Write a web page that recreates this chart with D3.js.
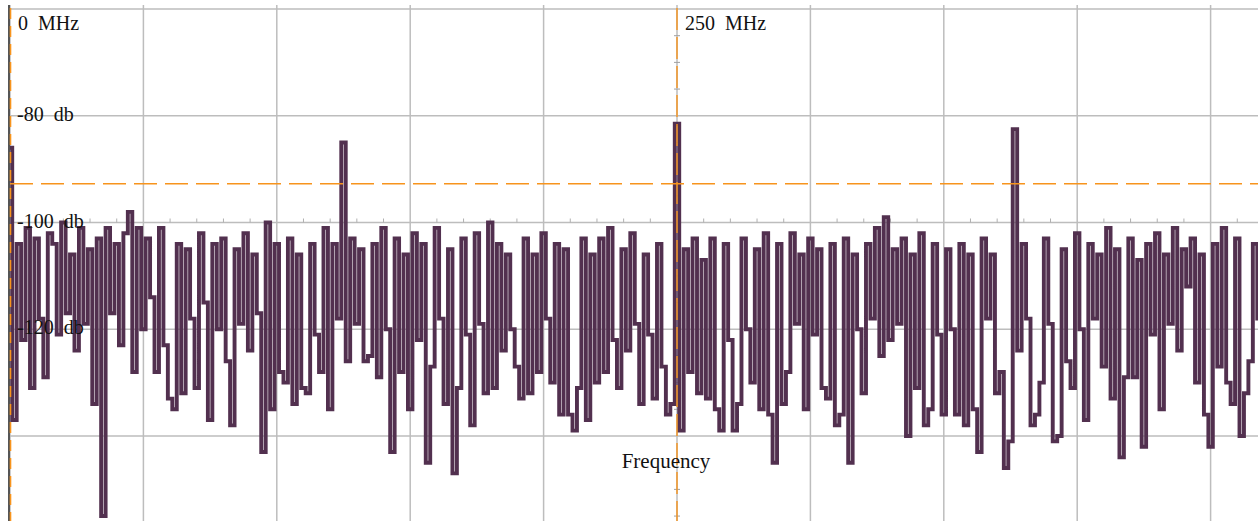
<!DOCTYPE html>
<html>
<head>
<meta charset="utf-8">
<script src="https://cdn.jsdelivr.net/npm/d3@7"></script>
<style>
  html, body { margin: 0; padding: 0; background: #fff; overflow: hidden; }
  text { font-family: "Liberation Serif", "DejaVu Serif", serif; white-space: pre; }
</style>
</head>
<body>
<div id="chart"></div>
<script>
// spectrum levels in db, one per bin (bin width 5/3 MHz)
const binWidth = 5 / 3;
const levels = [
  -86, -137, -104, -122, -101, -131, -103, -118, -129, -102,
  -104, -121, -100, -117, -106, -124, -101, -119, -105, -134,
  -103, -155, -101, -117, -104, -123, -102, -98, -128, -101,
  -120, -103, -114, -128, -101, -123, -133, -135, -104, -132,
  -105, -118, -131, -102, -115, -137, -104, -120, -103, -126,
  -138, -105, -119, -102, -124, -106, -117, -143, -100, -135,
  -104, -128, -130, -103, -134, -106, -131, -132, -104, -121,
  -128, -101, -135, -104, -118, -85, -126, -103, -119, -105,
  -126, -125, -104, -129, -101, -120, -143, -103, -128, -106,
  -135, -102, -122, -104, -145, -127, -101, -118, -134, -105,
  -147, -131, -103, -121, -138, -102, -119, -132, -100, -131,
  -104, -124, -106, -120, -127, -133, -103, -132, -106, -128,
  -102, -118, -130, -104, -136, -105, -136, -139, -131, -103,
  -137, -106, -130, -103, -128, -101, -122, -131, -105, -124,
  -102, -119, -134, -106, -121, -133, -104, -127, -136, -134,
  -81.5, -139, -105, -128, -103, -132, -107, -133, -103, -135,
  -139, -104, -122, -139, -134, -103, -120, -130, -105, -135,
  -102, -136, -145, -104, -134, -128, -102, -119, -106, -135,
  -103, -121, -105, -131, -133, -104, -138, -136, -103, -145,
  -106, -120, -132, -104, -118, -101, -125, -99, -122, -105,
  -119, -103, -140, -106, -131, -102, -138, -135, -104, -121,
  -136, -105, -120, -136, -104, -138, -106, -135, -143, -103,
  -118, -106, -132, -128, -146, -141, -82.5, -124, -104, -118,
  -138, -136, -130, -103, -119, -141, -140, -105, -126, -131,
  -102, -120, -137, -104, -118, -106, -127, -101, -133, -105,
  -144, -129, -103, -129, -107, -142, -104, -121, -102, -135,
  -106, -119, -101, -124, -105, -112, -103, -130, -106, -136,
  -142, -104, -127, -101, -130, -134, -103, -140, -132, -126,
  -104, -118, -106
];
const freqGrid = [0, 50, 100, 150, 200, 250, 300, 350, 400, 450];
const dbGrid = [-60, -80, -100, -120, -140];
const dbLabels = [-80, -100, -120];
const freqLabels = [0, 250];
const thresholdDb = -92.75;

const width = 1258, height = 521;

const svg = d3.select("#chart").append("svg")
  .attr("width", width)
  .attr("height", height);

const x = d3.scaleLinear().domain([0, 250]).range([10, 677]);
const y = d3.scaleLinear().domain([-60, -140]).range([9, 436]);

const data = levels.map((v, i) => ({ f: i * binWidth, v: v }));

// grid
svg.append("g")
  .selectAll("line")
  .data(freqGrid)
  .join("line")
  .attr("x1", d => x(d)).attr("x2", d => x(d))
  .attr("y1", 5).attr("y2", height)
  .attr("stroke", "#bdbdbd")
  .attr("stroke-width", 1.5);

svg.append("g")
  .selectAll("line")
  .data(dbGrid)
  .join("line")
  .attr("x1", 10).attr("x2", width)
  .attr("y1", d => y(d)).attr("y2", d => y(d))
  .attr("stroke", "#bdbdbd")
  .attr("stroke-width", 1.5);

// small ticks on the axes crossing at 250 MHz / -100 db
const xTicks = d3.range(0, 470, 10).filter(d => d % 50 !== 0);
svg.append("g")
  .selectAll("line")
  .data(xTicks)
  .join("line")
  .attr("x1", d => x(d)).attr("x2", d => x(d))
  .attr("y1", y(-100) - 4).attr("y2", y(-100))
  .attr("stroke", "#b0b0b0")
  .attr("stroke-width", 1);

const yTicks = d3.range(-60, -160, -5).filter(d => d % 20 !== 0);
svg.append("g")
  .selectAll("line")
  .data(yTicks)
  .join("line")
  .attr("x1", x(250) - 3).attr("x2", x(250) + 3)
  .attr("y1", d => y(d)).attr("y2", d => y(d))
  .attr("stroke", "#a0a0a0")
  .attr("stroke-width", 1);

// left axis
svg.append("line")
  .attr("x1", 9).attr("x2", 9)
  .attr("y1", 5).attr("y2", height)
  .attr("stroke", "#555")
  .attr("stroke-width", 2);

// spectrum
const line = d3.line()
  .x(d => x(d.f))
  .y(d => y(d.v))
  .curve(d3.curveStep);

svg.append("path")
  .datum(data)
  .attr("d", line)
  .attr("fill", "none")
  .attr("stroke", "#52304f")
  .attr("stroke-width", 3.9)
  .attr("stroke-linejoin", "miter");

// orange markers
svg.append("line")
  .attr("x1", 10).attr("x2", width)
  .attr("y1", y(thresholdDb)).attr("y2", y(thresholdDb))
  .attr("stroke", "#f7941d")
  .attr("stroke-width", 1.6)
  .attr("stroke-dasharray", "23,8");

svg.append("line")
  .attr("x1", x(0) + 0.5).attr("x2", x(0) + 0.5)
  .attr("y1", 8).attr("y2", height)
  .attr("stroke", "#f7941d")
  .attr("stroke-width", 1.6)
  .attr("stroke-dasharray", "11,7");

svg.append("line")
  .attr("x1", x(250)).attr("x2", x(250))
  .attr("y1", 8).attr("y2", height)
  .attr("stroke", "#f7941d")
  .attr("stroke-width", 1.4)
  .attr("stroke-dasharray", "22,7");

// labels
svg.append("g")
  .selectAll("text")
  .data(freqLabels)
  .join("text")
  .attr("x", d => x(d) + 8)
  .attr("y", 30)
  .style("font-size", "20px")
  .attr("fill", "#111")
  .text(d => `${d}  MHz`);

svg.append("g")
  .selectAll("text")
  .data(dbLabels)
  .join("text")
  .attr("x", 17)
  .attr("y", d => y(d) + 5)
  .style("font-size", "20px")
  .attr("fill", "#111")
  .text(d => `${d}  db`);

svg.append("text")
  .attr("x", 666)
  .attr("y", 468)
  .attr("text-anchor", "middle")
  .style("font-size", "21px")
  .attr("fill", "#111")
  .text("Frequency");
</script>
</body>
</html>
